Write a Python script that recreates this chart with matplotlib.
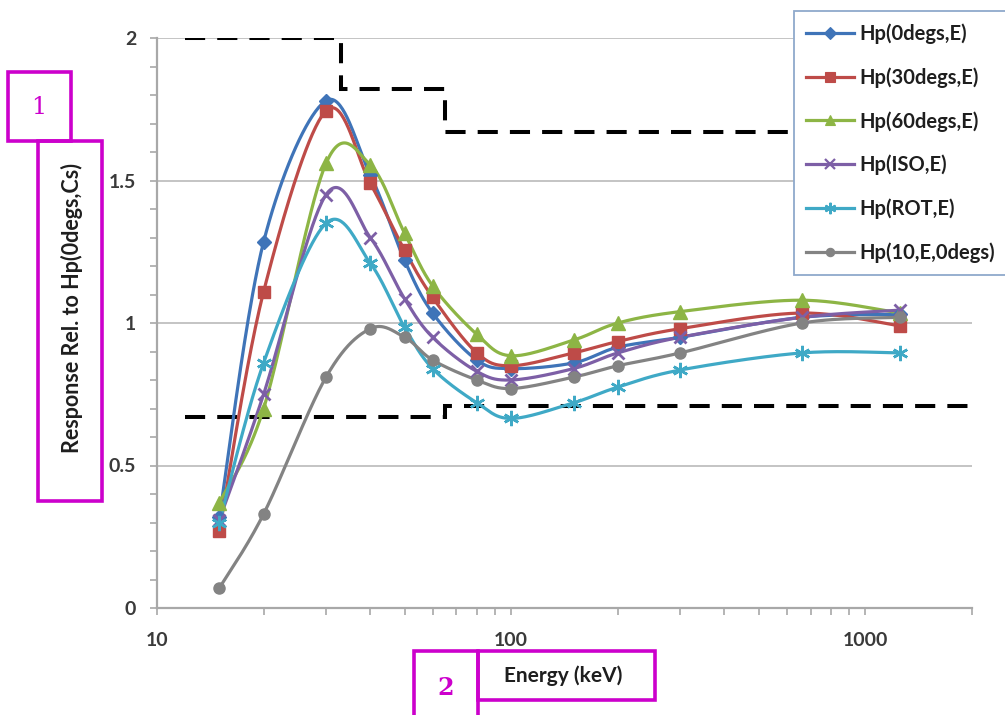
import numpy as np
import matplotlib
matplotlib.use("Agg")
import matplotlib.pyplot as plt
from matplotlib.patches import Rectangle
from matplotlib.ticker import FixedLocator, MultipleLocator, LogLocator, NullFormatter

# ---- data -------------------------------------------------------------
energy_kev = [15, 20, 30, 40, 50, 60, 80, 100, 150, 200, 300, 662, 1250]

hp_0deg  = [0.32, 1.285, 1.78, 1.52, 1.22, 1.035, 0.87, 0.84, 0.86, 0.915, 0.95, 1.02, 1.03]
hp_30deg = [0.27, 1.11, 1.745, 1.49, 1.255, 1.09, 0.895, 0.85, 0.895, 0.935, 0.98, 1.035, 0.99]
hp_60deg = [0.37, 0.70, 1.56, 1.555, 1.315, 1.13, 0.96, 0.885, 0.94, 1.0, 1.04, 1.08, 1.035]
hp_iso   = [0.31, 0.75, 1.45, 1.30, 1.085, 0.95, 0.83, 0.80, 0.84, 0.895, 0.95, 1.02, 1.045]
hp_rot   = [0.30, 0.86, 1.35, 1.21, 0.985, 0.84, 0.72, 0.665, 0.72, 0.775, 0.835, 0.895, 0.895]
hp_10    = [0.07, 0.33, 0.81, 0.98, 0.95, 0.87, 0.80, 0.77, 0.81, 0.85, 0.895, 1.0, 1.02]

series_labels = ["Hp(0degs,E)", "Hp(30degs,E)", "Hp(60degs,E)",
                 "Hp(ISO,E)", "Hp(ROT,E)", "Hp(10,E,0degs)"]

# acceptance limits (step functions)
upper_edges = [12, 33, 65, 2000]
upper_levels = [2.0, 1.82, 1.67]
lower_edges = [12, 65, 2000]
lower_levels = [0.67, 0.71]

x_ticks = [10, 100, 1000]
y_ticks = [0, 0.5, 1, 1.5, 2]

# ---- style ------------------------------------------------------------
FONT = ["Lato", "DejaVu Sans"]
plt.rcParams["font.family"] = FONT

W, H = 1005, 715
fig = plt.figure(figsize=(W / 100, H / 100), dpi=100)
fig.patch.set_facecolor("white")

x_min, x_max = 10, 2000
ax_left, ax_right, ax_top, ax_bottom = 157, 972, 38, 608
ax = fig.add_axes([ax_left / W, 1 - ax_bottom / H,
                   (ax_right - ax_left) / W, (ax_bottom - ax_top) / H])
ax.set_xscale("log")
ax.set_xlim(x_min, x_max)
ax.set_ylim(0, 2)


def smooth_path(xs, ys, n=40):
    """Bezier smoothing (Catmull-Rom style) in log-x space."""
    pts = np.column_stack([np.log10(xs), np.asarray(ys, float)])
    pts = np.vstack([pts[0], pts, pts[-1]])
    t = np.linspace(0, 1, n)[:, None]
    pieces = []
    for i in range(1, len(pts) - 2):
        p0, p1, p2, p3 = pts[i - 1], pts[i], pts[i + 1], pts[i + 2]
        c1 = p1 + (p2 - p0) / 6
        c2 = p2 - (p3 - p1) / 6
        seg = ((1 - t) ** 3) * p1 + 3 * (1 - t) ** 2 * t * c1 \
            + 3 * (1 - t) * t ** 2 * c2 + t ** 3 * p2
        pieces.append(seg if i == 1 else seg[1:])
    s = np.vstack(pieces)
    return 10 ** s[:, 0], s[:, 1]


styles = [
    dict(color="#3F74B8", marker="D", ms=7.5, mew=1.0),
    dict(color="#BE4B48", marker="s", ms=9, mew=1.0),
    dict(color="#8DB545", marker="^", ms=9.5, mew=1.0),
    dict(color="#7D5FA6", marker="x", ms=9, mew=2.0),
    dict(color="#3FA9C6", marker=(6, 2, 0), ms=11, mew=1.8),
    dict(color="#838383", marker="o", ms=8, mew=1.0),
]
values = [hp_0deg, hp_30deg, hp_60deg, hp_iso, hp_rot, hp_10]

# grid
for yv in [0.5, 1.0, 1.5, 2.0]:
    ax.axhline(yv, color="#C4C4C4", lw=1.4, zorder=0)

# limit lines
ax.stairs(lower_levels, lower_edges, baseline=None, color="black", lw=2.9,
          linestyle=(0, (5, 3)), zorder=1)
ax.stairs(upper_levels, upper_edges, baseline=None, color="black", lw=2.9,
          linestyle=(0, (5, 3)), zorder=1)

handles = []
for lab, vals, st in zip(series_labels, values, styles):
    sx, sy = smooth_path(energy_kev, vals)
    ax.plot(sx, sy, color=st["color"], lw=2.3, zorder=3, solid_capstyle="round")
    ax.plot(energy_kev, vals, linestyle="none", marker=st["marker"],
            ms=st["ms"], color=st["color"], mec=st["color"], mew=st["mew"],
            zorder=4)
    h, = ax.plot([], [], color=st["color"], lw=2.3, marker=st["marker"],
                 ms=st["ms"] * 0.75, mec=st["color"], mew=st["mew"] * 0.8,
                 label=lab)
    handles.append(h)

# axes cosmetics
for side in ["top", "right"]:
    ax.spines[side].set_visible(False)
for side in ["left", "bottom"]:
    ax.spines[side].set_color("#A8A8A8")
    ax.spines[side].set_linewidth(1.6)

ax.xaxis.set_major_locator(FixedLocator(x_ticks))
ax.xaxis.set_minor_locator(LogLocator(base=10, subs=np.arange(2, 10)))
ax.xaxis.set_minor_formatter(NullFormatter())
ax.set_xticklabels([str(v) for v in x_ticks])
ax.yaxis.set_major_locator(FixedLocator(y_ticks))
ax.yaxis.set_minor_locator(MultipleLocator(0.1))
ax.set_yticklabels(["0", "0.5", "1", "1.5", "2"])

ax.tick_params(which="both", direction="out", length=5, width=1.2,
               color="#A8A8A8")
ax.tick_params(axis="both", labelsize=14, labelcolor="#3A3A3A")
ax.tick_params(axis="x", pad=12)
ax.tick_params(axis="y", pad=10)
for lbl in ax.get_xticklabels() + ax.get_yticklabels():
    lbl.set_fontweight("bold")

fig.text(72 / W, 1 - 308 / H, "Response Rel. to Hp(0degs,Cs)", rotation=90,
         ha="center", va="center", fontsize=15.5, fontweight="bold",
         color="#1E1E1E")
fig.text(563 / W, 1 - 676 / H, "Energy (keV)", ha="center", va="center",
         fontsize=15, fontweight="bold", color="#1E1E1E")

leg = fig.legend(handles=handles, loc="upper left",
                 bbox_to_anchor=(794 / W, 1 - 11 / H), borderaxespad=0,
                 frameon=True, fancybox=False, framealpha=1.0,
                 handlelength=2.35, handletextpad=0.3, labelspacing=1.15,
                 borderpad=0.62, numpoints=1,
                 prop={"family": FONT, "size": 14.5, "weight": "bold"})
leg.get_frame().set_edgecolor("#8FA9CC")
leg.get_frame().set_linewidth(1.3)
leg.set_zorder(20)
for txt in leg.get_texts():
    txt.set_color("#1E1E1E")

# numbered callout boxes
MAG = "#CC00CC"


def callout(x0, y0, x1, y1):
    fig.patches.append(Rectangle((x0 / W, 1 - y1 / H), (x1 - x0) / W,
                                 (y1 - y0) / H, transform=fig.transFigure,
                                 fill=False, edgecolor=MAG, lw=2.6,
                                 zorder=30))


callout(8, 72, 71, 141)
callout(38, 141, 102, 501)
callout(414, 651, 478, 720)
callout(478, 651, 655, 700)
fig.text(39 / W, 1 - 108 / H, "1", color=MAG, fontsize=17,
         family="DejaVu Serif", ha="center", va="center")
fig.text(446 / W, 1 - 688 / H, "2", color=MAG, fontsize=17,
         family="DejaVu Serif", fontweight="bold", ha="center", va="center")

fig.savefig("out.png", dpi=100)
